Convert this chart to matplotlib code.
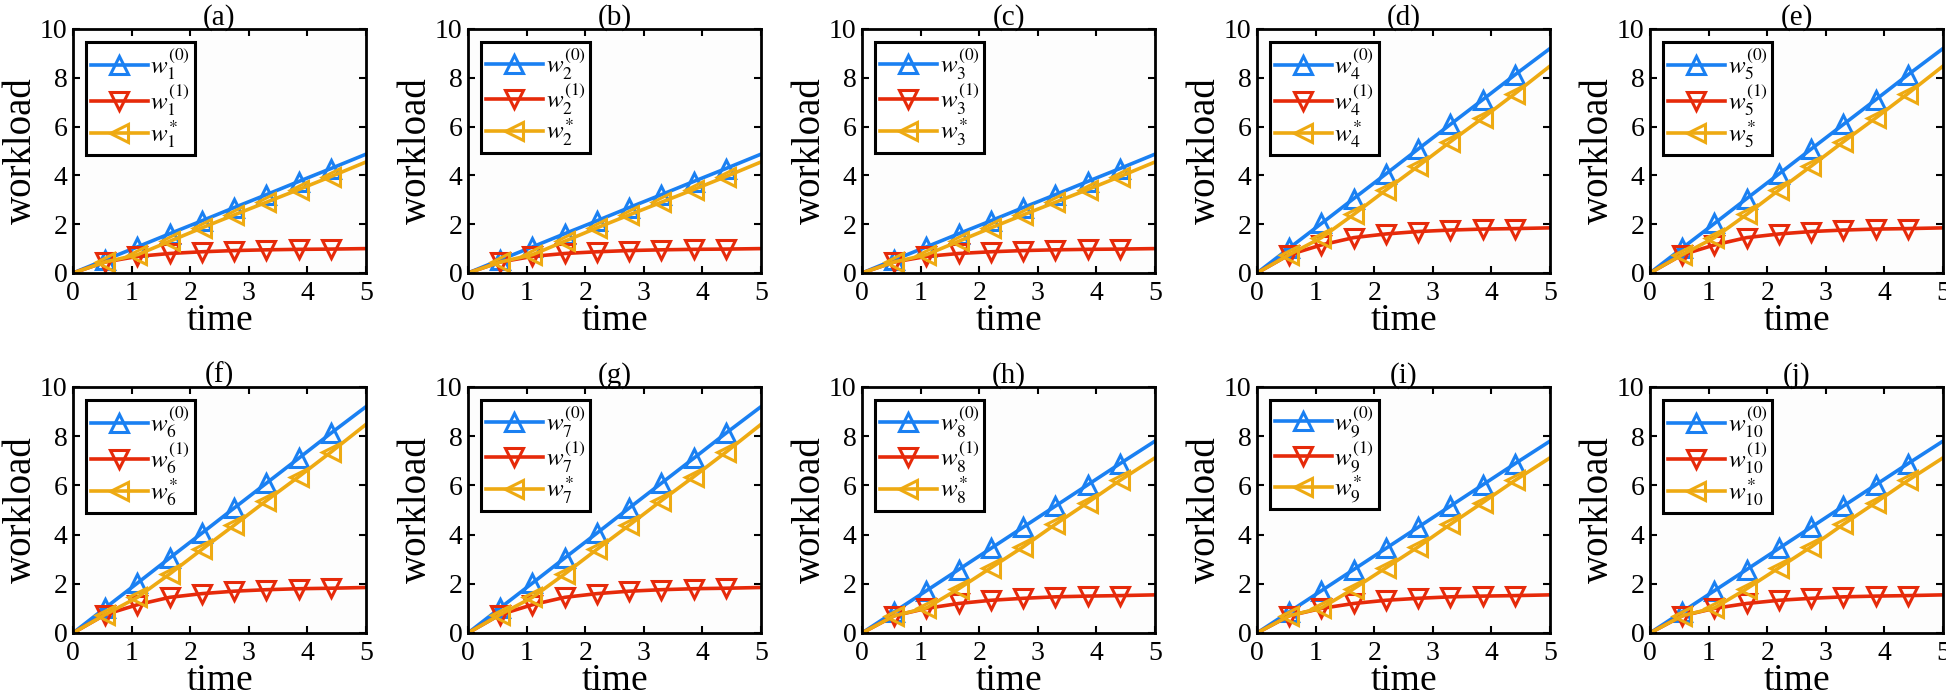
import numpy as np
import matplotlib
matplotlib.use("Agg")
import matplotlib.pyplot as plt

plt.rcParams['font.family'] = ['Liberation Serif', 'DejaVu Serif']
plt.rcParams['mathtext.fontset'] = 'stix'

# time samples (markers on the inner points)
t = [0, 0.55, 1.1, 1.65, 2.2, 2.75, 3.3, 3.85, 4.4, 5.0]

# group A: panels (a)-(c)
blue_a = [0, 0.54, 1.07, 1.61, 2.14, 2.68, 3.21, 3.75, 4.28, 4.87]
red_a = [0, 0.45, 0.68, 0.80, 0.87, 0.92, 0.95, 0.97, 0.98, 1.00]
orange_a = [0, 0.45, 0.75, 1.30, 1.85, 2.38, 2.90, 3.42, 3.95, 4.55]

# group B: panels (d)-(g)
blue_b = [0, 1.02, 2.03, 3.05, 4.06, 5.08, 6.09, 7.10, 8.12, 9.20]
red_b = [0, 0.75, 1.15, 1.45, 1.60, 1.70, 1.76, 1.80, 1.82, 1.85]
orange_b = [0, 0.75, 1.45, 2.40, 3.40, 4.38, 5.38, 6.35, 7.35, 8.48]

# group C: panels (h)-(j)
blue_c = [0, 0.86, 1.72, 2.58, 3.44, 4.30, 5.16, 6.02, 6.88, 7.80]
red_c = [0, 0.70, 1.00, 1.20, 1.33, 1.41, 1.47, 1.50, 1.52, 1.55]
orange_c = [0, 0.70, 1.02, 1.80, 2.65, 3.50, 4.42, 5.30, 6.20, 7.12]

panel_titles = ['(a)', '(b)', '(c)', '(d)', '(e)', '(f)', '(g)', '(h)', '(i)', '(j)']
panel_group = ['A', 'A', 'A', 'B', 'B', 'B', 'B', 'C', 'C', 'C']
data = {
    'A': (blue_a, red_a, orange_a),
    'B': (blue_b, red_b, orange_b),
    'C': (blue_c, red_c, orange_c),
}

c_blue = '#1a80f2'
c_red = '#e62a0a'
c_orange = '#eeaa12'

fig = plt.figure(figsize=(19.46, 7.0), dpi=100)

lefts = [73, 468, 862, 1257, 1650]
W, H = 1946.0, 700.0

for i in range(10):
    row, col = divmod(i, 5)
    top = 29 if row == 0 else 387
    bottom = 273 if row == 0 else 633
    ax = fig.add_axes([lefts[col] / W, 1 - bottom / H, 293 / W, (bottom - top) / H])
    ax.set_facecolor('#fdfdfd')
    blue, red, orange = data[panel_group[i]]
    k = i + 1
    style = dict(lw=2.6, ms=13.5, mew=2.2, mfc='none', markevery=list(range(1, 9)))
    ax.plot(t, blue, color=c_blue, marker='^', label=r'$w_{%d}^{(0)}$' % k, **style)
    ax.plot(t, red, color=c_red, marker='v', label=r'$w_{%d}^{(1)}$' % k, **style)
    ax.plot(t, orange, color=c_orange, marker='<', label=r'$w_{%d}^{*}$' % k, **style)

    ax.set_xlim(0, 5)
    ax.set_ylim(0, 10)
    ax.set_xticks(range(0, 6))
    ax.set_yticks(range(0, 11, 2))
    ax.tick_params(direction='in', top=True, right=True, length=5, width=1.5,
                   labelsize=20)
    ax.tick_params(axis='x', pad=6)
    ax.tick_params(axis='y', pad=4)
    for s in ax.spines.values():
        s.set_linewidth(2.0)
    ax.set_xlabel('time', fontsize=27, labelpad=-2)
    ax.set_ylabel('workload', fontsize=28, labelpad=0)
    ax.set_title(panel_titles[i], fontsize=21, pad=3)

    leg = ax.legend(loc='upper left', fontsize=18, handlelength=2.3,
                    handletextpad=0.1, labelspacing=0.0, borderpad=0.2,
                    borderaxespad=0.5, fancybox=False, framealpha=1,
                    edgecolor='black')
    leg.get_frame().set_linewidth(2.2)
    leg.get_frame().set_facecolor('white')

fig.savefig('out.png', dpi=100)
